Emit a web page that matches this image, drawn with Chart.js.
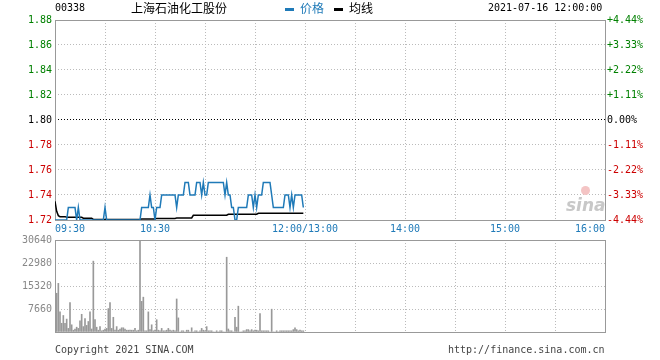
<!DOCTYPE html>
<html>
<head>
<meta charset="utf-8">
<script src="https://cdn.jsdelivr.net/npm/chart.js@4.4.1/dist/chart.umd.min.js"></script>
<style>
  body { margin: 0; background: #fff; }
  #wrap { position: relative; width: 660px; height: 360px; overflow: hidden; font-family: "DejaVu Sans Mono", monospace; font-size: 10px; color: #000; }
  #wrap canvas { position: absolute; left: 0; }
  .txt { position: absolute; white-space: nowrap; line-height: 12px; }
  .cn { font-family: "Noto Sans CJK SC", sans-serif; font-size: 12px; line-height: 14px; }
  .key { display: inline-block; width: 9px; height: 3px; vertical-align: middle; margin-right: 6px; }
</style>
</head>
<body>
<div id="wrap">
  <canvas id="price" width="660" height="240" style="top:0"></canvas>
  <canvas id="vol" width="660" height="111" style="top:230px"></canvas>

  <div class="txt" style="left:55px;top:2px">00338</div>
  <div class="txt cn" style="left:131px;top:1px">上海石油化工股份</div>
  <div class="txt cn" style="left:285px;top:1px;color:#1f7ab8"><span class="key" style="background:#1f7ab8"></span>价格</div>
  <div class="txt cn" style="left:334px;top:1px"><span class="key" style="background:#000"></span>均线</div>
  <div class="txt" style="left:488px;top:2px">2021-07-16 12:00:00</div>
  <div class="txt" style="left:566px;top:195px;font:italic bold 17px 'DejaVu Sans',sans-serif;color:#c8c8c8">sina</div>
  <div class="txt" style="left:581px;top:186px;width:9px;height:9px;border-radius:50%;background:#f4c4c4"></div>
  <div class="txt" style="left:55px;top:344px;color:#444">Copyright 2021 SINA.COM</div>
  <div class="txt" style="left:448px;top:344px;color:#444">http://finance.sina.com.cn</div>
</div>
<script>
// minutes from 09:30, one point per minute up to 11:59
const prices = [
  1.72, 1.72, 1.72, 1.72, 1.72, 1.72, 1.72, 1.72, 1.73, 1.73,
  1.73, 1.73, 1.73, 1.72, 1.73, 1.72, 1.72, 1.72, 1.72, 1.72,
  1.72, 1.72, 1.72, 1.72, 1.72, 1.72, 1.72, 1.72, 1.72, 1.72,
  1.73, 1.72, 1.72, 1.72, 1.72, 1.72, 1.72, 1.72, 1.72, 1.72,
  1.72, 1.72, 1.72, 1.72, 1.72, 1.72, 1.72, 1.72, 1.72, 1.72,
  1.72, 1.72, 1.73, 1.73, 1.73, 1.73, 1.73, 1.74, 1.73, 1.73,
  1.72, 1.73, 1.73, 1.73, 1.74, 1.74, 1.74, 1.74, 1.74, 1.74,
  1.74, 1.74, 1.74, 1.73, 1.74, 1.74, 1.74, 1.74, 1.75, 1.75,
  1.75, 1.74, 1.74, 1.74, 1.74, 1.75, 1.75, 1.75, 1.74, 1.75,
  1.74, 1.74, 1.75, 1.75, 1.75, 1.75, 1.75, 1.75, 1.75, 1.75,
  1.75, 1.75, 1.74, 1.75, 1.74, 1.74, 1.73, 1.73, 1.72, 1.72,
  1.73, 1.73, 1.73, 1.73, 1.73, 1.73, 1.74, 1.74, 1.74, 1.73,
  1.74, 1.73, 1.74, 1.74, 1.74, 1.75, 1.75, 1.75, 1.75, 1.75,
  1.74, 1.73, 1.73, 1.73, 1.73, 1.73, 1.73, 1.73, 1.74, 1.74,
  1.74, 1.73, 1.74, 1.73, 1.74, 1.74, 1.74, 1.74, 1.74, 1.73
]

const avgPrices = [
  1.735, 1.727, 1.7235, 1.7227, 1.7227, 1.7227, 1.7227, 1.7222, 1.7222, 1.7222,
  1.7222, 1.7222, 1.7222, 1.7222, 1.7222, 1.7222, 1.7222, 1.7214, 1.7214, 1.7214,
  1.7214, 1.7214, 1.7214, 1.7205, 1.7205, 1.7205, 1.7205, 1.7205, 1.7205, 1.7205,
  1.7205, 1.7205, 1.7205, 1.7205, 1.7205, 1.7205, 1.7205, 1.7205, 1.7205, 1.7205,
  1.7205, 1.7205, 1.7205, 1.7205, 1.7205, 1.7205, 1.7205, 1.7205, 1.7205, 1.7205,
  1.7205, 1.7205, 1.7208, 1.7208, 1.7208, 1.7208, 1.7208, 1.7208, 1.7208, 1.7208,
  1.7208, 1.7213, 1.7213, 1.7213, 1.7213, 1.7213, 1.7213, 1.7213, 1.7213, 1.7213,
  1.7213, 1.7213, 1.7213, 1.7216, 1.7216, 1.7216, 1.7216, 1.7216, 1.7216, 1.7216,
  1.7216, 1.7216, 1.7216, 1.7238, 1.7238, 1.7238, 1.7238, 1.7238, 1.7238, 1.7238,
  1.7238, 1.7238, 1.7238, 1.7238, 1.7238, 1.7238, 1.7238, 1.7238, 1.7238, 1.7238,
  1.7238, 1.7238, 1.7238, 1.7238, 1.7246, 1.7246, 1.7246, 1.7246, 1.7246, 1.7246,
  1.7246, 1.7246, 1.7246, 1.7246, 1.7246, 1.7246, 1.7246, 1.7246, 1.7246, 1.7246,
  1.7246, 1.7246, 1.7254, 1.7254, 1.7254, 1.7254, 1.7254, 1.7254, 1.7254, 1.7254,
  1.7254, 1.7254, 1.7254, 1.7254, 1.7254, 1.7254, 1.7254, 1.7254, 1.7254, 1.7254,
  1.7254, 1.7254, 1.7254, 1.7254, 1.7254, 1.7254, 1.7254, 1.7254, 1.7254, 1.7254
]

const volumes = [
  0, 12900, 16200, 6700, 2900, 5500, 2900, 4300, 1200, 9800,
  2400, 600, 1000, 1600, 1200, 3700, 5900, 1800, 4500, 2200,
  3500, 6700, 1000, 23600, 4100, 1600, 600, 1800, 400, 600,
  1000, 1200, 7800, 9800, 1200, 4900, 600, 1800, 600, 1000,
  1400, 1400, 1000, 600, 600, 600, 600, 600, 1200, 400,
  600, 30640, 10200, 11600, 400, 400, 6700, 800, 2400, 400,
  600, 4100, 600, 400, 1200, 400, 400, 600, 1200, 600,
  400, 600, 400, 11000, 4700, 0, 400, 400, 0, 600,
  600, 0, 1400, 0, 400, 400, 0, 400, 1200, 600,
  400, 1800, 400, 400, 400, 0, 0, 400, 0, 400,
  400, 0, 0, 24900, 1000, 400, 400, 0, 4900, 1600,
  8600, 0, 0, 400, 400, 800, 800, 400, 800, 400,
  600, 600, 400, 6100, 400, 400, 400, 400, 400, 0,
  7600, 0, 0, 400, 0, 400, 400, 400, 400, 400,
  400, 400, 400, 800, 1400, 800, 400, 600, 400, 400
]

const timeTicks = [0, 30, 60, 90, 120, 150, 180, 210, 240, 270, 300, 330]
const timeLabels = ["09:30", "", "10:30", "", "", "12:00/13:00", "", "14:00", "", "15:00", "", "16:00"]
const priceTicks = [1.72, 1.74, 1.76, 1.78, 1.80, 1.82, 1.84, 1.86, 1.88]
const pctLabels = ["-4.44%", "-3.33%", "-2.22%", "-1.11%", "0.00%", "+1.11%", "+2.22%", "+3.33%", "+4.44%"]
const volTicks = [0, 7660, 15320, 22980, 30640]

const prevClose = 1.80
const mono = { family: '"DejaVu Sans Mono", monospace', size: 10 }
const gridColor = "#bbbbbb"
const upColor = "#008000"
const downColor = "#cc0000"

// draw the grey box round the plot area
const frame = {
  id: "frame",
  beforeDatasetsDraw(chart) {
    const { ctx, chartArea: a } = chart
    ctx.save()
    ctx.strokeStyle = "#999"
    ctx.lineWidth = 1
    ctx.strokeRect(a.left + 0.5, a.top + 0.5, a.right - a.left, a.bottom - a.top)
    ctx.restore()
  },
}

const sideColor = (c) => {
  const v = c.tick.value
  if (v > prevClose + 1e-6) return upColor
  if (v < prevClose - 1e-6) return downColor
  return "#000"
}

const timeAxis = (showLabels) => ({
  type: "linear",
  min: 0,
  max: 330,
  offset: false,
  afterBuildTicks: (s) => { s.ticks = timeTicks.map((v) => ({ value: v })) },
  afterFit: (s) => { s.height = showLabels ? 20 : 0 },
  ticks: {
    display: showLabels,
    autoSkip: false,
    maxRotation: 0,
    align: "inner",
    padding: 3,
    color: "#1f7ab8",
    font: mono,
    callback: (v, i) => timeLabels[i],
  },
  grid: { color: gridColor, drawTicks: false, offset: false },
  border: { display: false, dash: [1, 2] },
})

new Chart(document.getElementById("price"), {
  type: "line",
  data: {
    datasets: [
      {
        label: "价格",
        data: prices.map((v, i) => ({ x: i, y: v })),
        borderColor: "#1f7ab8",
        borderWidth: 1.5,
        pointRadius: 0,
        tension: 0,
      },
      {
        label: "均线",
        data: avgPrices.map((v, i) => ({ x: i, y: v })),
        borderColor: "#000",
        borderWidth: 1.5,
        pointRadius: 0,
        tension: 0,
      },
    ],
  },
  options: {
    responsive: false,
    animation: false,
    devicePixelRatio: 1,
    layout: { padding: { top: 20, bottom: 0, left: 0, right: 0 } },
    plugins: { legend: { display: false }, tooltip: { enabled: false } },
    scales: {
      x: timeAxis(true),
      y: {
        position: "left",
        min: 1.72,
        max: 1.88,
        afterBuildTicks: (s) => { s.ticks = priceTicks.map((v) => ({ value: v })) },
        afterFit: (s) => { s.width = 55 },
        ticks: { padding: 3, font: mono, color: sideColor, callback: (v) => v.toFixed(2) },
        grid: {
          drawTicks: false,
          color: (c) => (c.tick && Math.abs(c.tick.value - prevClose) < 1e-6 ? "#000" : gridColor),
        },
        border: { display: false, dash: [1, 2] },
      },
      y2: {
        position: "right",
        min: 1.72,
        max: 1.88,
        afterBuildTicks: (s) => { s.ticks = priceTicks.map((v) => ({ value: v })) },
        afterFit: (s) => { s.width = 55 },
        ticks: { padding: 2, font: mono, color: sideColor, callback: (v, i) => pctLabels[i] },
        grid: { drawOnChartArea: false, drawTicks: false },
        border: { display: false },
      },
    },
  },
  plugins: [frame],
})

new Chart(document.getElementById("vol"), {
  type: "bar",
  data: {
    datasets: [
      {
        label: "成交量",
        data: volumes.map((v, i) => ({ x: i, y: v })),
        backgroundColor: "#999",
        barThickness: 1,
      },
    ],
  },
  options: {
    responsive: false,
    animation: false,
    devicePixelRatio: 1,
    layout: { padding: { top: 10, bottom: 1, left: 0, right: 55 } },
    plugins: { legend: { display: false }, tooltip: { enabled: false } },
    scales: {
      x: timeAxis(false),
      y: {
        min: 0,
        max: 30640,
        afterBuildTicks: (s) => { s.ticks = volTicks.map((v) => ({ value: v })) },
        afterFit: (s) => { s.width = 55 },
        ticks: { padding: 3, font: mono, color: "#888", callback: (v) => (v === 0 ? "" : String(v)) },
        grid: { color: gridColor, drawTicks: false },
        border: { display: false, dash: [1, 2] },
      },
    },
  },
  plugins: [frame],
})
</script>
</body>
</html>
